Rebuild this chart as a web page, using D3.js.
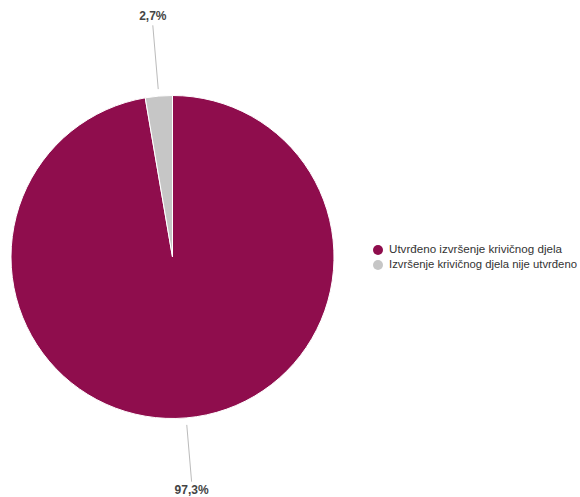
<!DOCTYPE html>
<html>
<head>
<meta charset="utf-8">
<script src="https://cdn.jsdelivr.net/npm/d3@7"></script>
<style>
  body { margin: 0; background: #fff; }
  text { font-family: "Liberation Sans", Arial, sans-serif; }
</style>
</head>
<body>
<svg id="chart" width="580" height="497"></svg>
<script>
// data
const categories = ['Utvrđeno izvršenje krivičnog djela', 'Izvršenje krivičnog djela nije utvrđeno'];
const values = [97.3, 2.7];
const labels = ['97,3%', '2,7%'];
const colors = ['#8f0d4d', '#c6c6c6'];

const svg = d3.select('#chart');
const cx = 172.5, cy = 257, r = 161.5;

const pie = d3.pie().sort(null).value(d => d.value);
const arcs = pie(categories.map((c, i) => ({ name: c, value: values[i], label: labels[i] })));

const arc = d3.arc().innerRadius(0).outerRadius(r);
const g = svg.append('g').attr('transform', `translate(${cx},${cy})`);

g.selectAll('path').data(arcs).enter().append('path')
    .attr('d', arc)
    .attr('fill', (d, i) => colors[i])
    .attr('stroke', '#fff')
    .attr('stroke-width', 1);

// leader lines, radial out from the middle of each slice
const radial = (a, rr) => [Math.sin(a) * rr, -Math.cos(a) * rr];
arcs.forEach(d => {
    const a = (d.startAngle + d.endAngle) / 2;
    const up = Math.cos(a) > 0;
    const p0 = radial(a, r + 7), p1 = radial(a, r + (up ? 71 : 64));
    g.append('line')
        .attr('x1', p0[0]).attr('y1', p0[1])
        .attr('x2', p1[0]).attr('y2', p1[1])
        .attr('stroke', '#bbb')
        .attr('stroke-width', 1);
    g.append('text')
        .attr('x', p1[0]).attr('y', p1[1] + (up ? -9 : 9))
        .attr('text-anchor', 'middle')
        .attr('dominant-baseline', 'middle')
        .attr('font-size', 12)
        .attr('font-weight', 'bold')
        .attr('fill', '#444')
        .text(d.data.label);
});

// legend
const legend = svg.append('g').attr('transform', 'translate(378,250)');
const item = legend.selectAll('g').data(categories).enter().append('g')
    .attr('transform', (d, i) => `translate(0,${i * 15})`);
item.append('circle').attr('r', 5).attr('fill', (d, i) => colors[i]);
item.append('text')
    .attr('x', 11).attr('y', 0)
    .attr('dominant-baseline', 'middle')
    .attr('font-size', 11.5)
    .attr('textLength', (d, i) => i === 0 ? 173 : 188)
    .attr('lengthAdjust', 'spacingAndGlyphs')
    .attr('fill', '#333')
    .text(d => d);
</script>
</body>
</html>
